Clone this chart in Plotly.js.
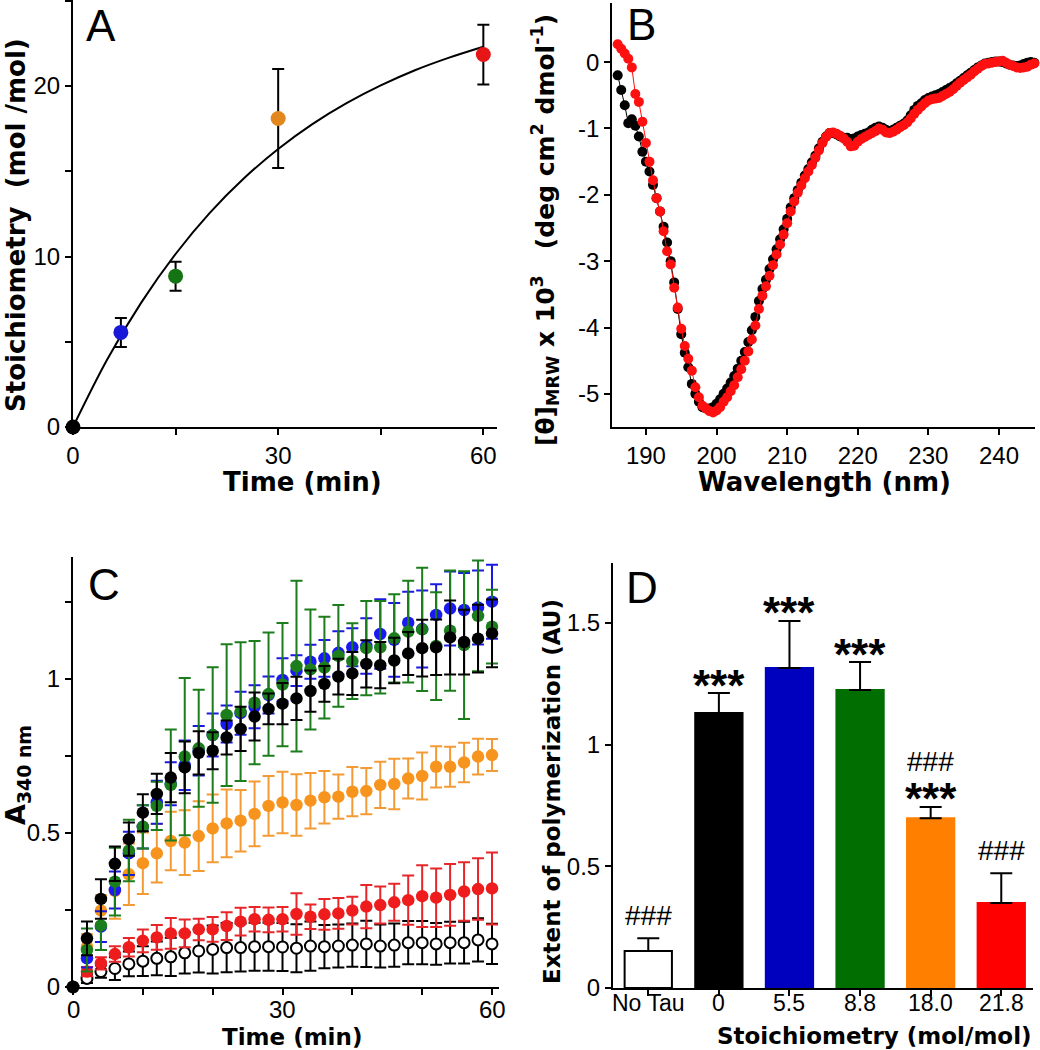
<!DOCTYPE html>
<html><head><meta charset="utf-8">
<script src="https://cdn.plot.ly/plotly-3.0.1.min.js"></script>
<style>html,body{margin:0;padding:0;background:#fff}#chart{width:1040px;height:1050px}</style>
</head><body><div id="chart"></div>
<script>
// ---------- Panel A: stoichiometry vs time ----------
const aTime = [0, 7, 15, 30, 60];
const aStoich = [0, 5.55, 8.85, 18.1, 21.85];
const aErr = [0, 0.85, 0.85, 2.9, 1.75];
const aColors = ['#000000', '#1818d8', '#147414', '#e2861e', '#e61618'];
const aFitTime = [0, 5, 10, 15, 20, 25, 30, 35, 40, 45, 50, 55, 60];
const aFitStoich = [0, 3.96, 7.31, 10.15, 12.56, 14.59, 16.31, 17.77, 19.0, 20.04, 20.93, 21.67, 22.31];

// ---------- Panel B: CD spectra ----------
const bWavelength = [186,186.5,187,187.5,188,188.5,189,189.5,190,190.5,191,191.5,192,192.5,193,193.5,194,194.5,195,195.5,196,196.5,197,197.5,198,198.5,199,199.5,200,200.5,201,201.5,202,202.5,203,203.5,204,204.5,205,205.5,206,206.5,207,207.5,208,208.5,209,209.5,210,210.5,211,211.5,212,212.5,213,213.5,214,214.5,215,215.5,216,216.5,217,217.5,218,218.5,219,219.5,220,220.5,221,221.5,222,222.5,223,223.5,224,224.5,225,225.5,226,226.5,227,227.5,228,228.5,229,229.5,230,230.5,231,231.5,232,232.5,233,233.5,234,234.5,235,235.5,236,236.5,237,237.5,238,238.5,239,239.5,240,240.5,241,241.5,242,242.5,243,243.5,244,244.5,245];
const bBlack = [-0.2,-0.42,-0.65,-0.92,-0.86,-0.96,-1.12,-1.35,-1.5,-1.65,
 -1.85,-2.05,-2.25,-2.48,-2.72,-3.0,-3.32,-3.72,-4.1,-4.38,
 -4.6,-4.85,-5.0,-5.12,-5.2,-5.22,-5.22,-5.2,-5.15,-5.08,
 -5.0,-4.92,-4.83,-4.73,-4.62,-4.5,-4.37,-4.22,-4.04,-3.84,
 -3.6,-3.42,-3.28,-3.12,-2.97,-2.82,-2.67,-2.52,-2.36,-2.19,
 -2.05,-1.93,-1.82,-1.71,-1.61,-1.51,-1.41,-1.3,-1.2,-1.12,
 -1.07,-1.07,-1.09,-1.12,-1.14,-1.14,-1.16,-1.15,-1.12,-1.1,
 -1.08,-1.06,-1.02,-0.99,-0.97,-0.99,-1.02,-1.04,-1.02,-0.99,
 -0.96,-0.93,-0.88,-0.8,-0.72,-0.66,-0.62,-0.57,-0.54,-0.52,
 -0.5,-0.48,-0.45,-0.42,-0.39,-0.36,-0.32,-0.28,-0.24,-0.2,
 -0.16,-0.12,-0.08,-0.05,-0.02,-0.01,0.0,0.01,0.01,0.0,
 -0.02,-0.04,-0.05,-0.06,-0.05,-0.03,-0.01,0.0,-0.01];
const bRed = [0.27,0.2,0.13,0.05,-0.08,-0.48,-0.6,-0.9,-1.22,-1.5,
 -1.78,-2.05,-2.25,-2.55,-2.85,-3.05,-3.4,-3.7,-4.02,-4.28,
 -4.47,-4.65,-4.9,-5.05,-5.18,-5.22,-5.26,-5.28,-5.25,-5.2,
 -5.12,-5.05,-4.96,-4.87,-4.75,-4.63,-4.5,-4.36,-4.18,-3.97,
 -3.72,-3.52,-3.38,-3.22,-3.06,-2.9,-2.75,-2.6,-2.43,-2.25,
 -2.1,-1.97,-1.86,-1.75,-1.65,-1.55,-1.44,-1.33,-1.22,-1.13,
 -1.07,-1.06,-1.08,-1.11,-1.15,-1.2,-1.27,-1.26,-1.2,-1.16,
 -1.13,-1.1,-1.07,-1.04,-1.0,-1.02,-1.06,-1.07,-1.05,-1.02,
 -0.98,-0.95,-0.91,-0.85,-0.78,-0.72,-0.67,-0.62,-0.58,-0.56,
 -0.55,-0.54,-0.51,-0.48,-0.45,-0.41,-0.36,-0.31,-0.27,-0.23,
 -0.19,-0.14,-0.1,-0.06,-0.03,-0.02,-0.01,0.0,0.01,0.02,
 -0.01,-0.04,-0.06,-0.08,-0.09,-0.08,-0.07,-0.04,-0.02];

// ---------- Panel C: A340 polymerization kinetics ----------
const cTime = [0,2,4,6,8,10,12,14,16,18,20,22,24,26,28,30,32,34,36,38,40,42,44,46,48,50,52,54,56,58,60];
const cTimeTicks = [0, 30, 60];
const cNoTau = [0,0.028,0.05,0.06,0.075,0.084,0.093,0.098,0.111,0.117,0.122,0.128,0.128,0.131,0.131,0.13,0.126,0.133,0.131,0.133,0.136,0.14,0.133,0.136,0.144,0.144,0.14,0.144,0.144,0.153,0.14];
const cNoTauErr = [0,0.015,0.02,0.037,0.04,0.048,0.055,0.062,0.067,0.07,0.078,0.08,0.078,0.078,0.078,0.078,0.078,0.08,0.07,0.07,0.07,0.075,0.07,0.07,0.07,0.07,0.068,0.068,0.068,0.07,0.065];
const cRed = [0,0.05,0.077,0.107,0.129,0.15,0.161,0.174,0.174,0.187,0.187,0.198,0.212,0.22,0.218,0.22,0.237,0.228,0.236,0.239,0.248,0.261,0.266,0.275,0.282,0.295,0.29,0.299,0.31,0.318,0.32];
const cRedErr = [0,0.015,0.02,0.025,0.03,0.037,0.04,0.05,0.045,0.035,0.04,0.045,0.045,0.04,0.04,0.04,0.067,0.04,0.05,0.05,0.045,0.07,0.06,0.06,0.08,0.1,0.095,0.1,0.095,0.1,0.117];
const cOrange = [0,0.131,0.248,0.312,0.366,0.402,0.434,0.474,0.469,0.49,0.515,0.531,0.54,0.562,0.588,0.599,0.591,0.605,0.616,0.618,0.634,0.636,0.656,0.659,0.677,0.685,0.715,0.715,0.729,0.748,0.753];
const cOrangeErr = [0,0.04,0.05,0.09,0.1,0.1,0.095,0.095,0.105,0.113,0.11,0.11,0.1,0.105,0.097,0.1,0.1,0.09,0.085,0.072,0.08,0.075,0.075,0.082,0.065,0.076,0.067,0.065,0.064,0.058,0.052];
const cBlue = [0,0.093,0.196,0.315,0.434,0.52,0.6,0.66,0.72,0.767,0.818,0.854,0.889,0.91,0.948,0.997,1.027,1.056,1.067,1.085,1.103,1.107,1.146,1.127,1.183,1.162,1.208,1.229,1.224,1.232,1.251];
const cBlueErr = [0,0.03,0.05,0.06,0.07,0.07,0.07,0.07,0.08,0.08,0.07,0.06,0.07,0.07,0.06,0.07,0.05,0.055,0.06,0.07,0.062,0.09,0.113,0.12,0.1,0.125,0.1,0.12,0.12,0.12,0.12];
const cGreen = [0,0.12,0.2,0.342,0.443,0.52,0.588,0.656,0.748,0.775,0.818,0.883,0.894,0.923,0.951,0.982,1.042,1.031,1.037,1.075,1.058,1.1,1.103,1.132,1.154,1.161,1.107,1.157,1.11,1.205,1.17];
const cGreenErr = [0,0.07,0.08,0.11,0.1,0.07,0.078,0.18,0.255,0.19,0.22,0.23,0.225,0.2,0.2,0.2,0.277,0.195,0.165,0.165,0.123,0.153,0.15,0.143,0.165,0.2,0.175,0.195,0.24,0.18,0.12];
const cBlack = [0,0.158,0.286,0.4,0.48,0.566,0.627,0.68,0.713,0.76,0.767,0.81,0.838,0.878,0.903,0.92,0.937,0.961,0.984,1.008,1.018,1.049,1.045,1.06,1.083,1.1,1.103,1.135,1.12,1.131,1.148];
const cBlackErr = [0,0.055,0.064,0.056,0.054,0.06,0.065,0.08,0.084,0.07,0.06,0.055,0.072,0.078,0.05,0.067,0.07,0.067,0.058,0.058,0.07,0.077,0.075,0.074,0.07,0.092,0.09,0.12,0.105,0.11,0.11];

// ---------- Panel D: extent of polymerization ----------
const dCategories = ['No Tau', '0', '5.5', '8.8', '18.0', '21.8'];
const dValues = [0.152, 1.13, 1.315, 1.224, 0.698, 0.349];
const dErr = [0.053, 0.082, 0.193, 0.115, 0.046, 0.123];
const dColors = ['#ffffff', '#000000', '#0000bf', '#006e00', '#ff8000', '#ff0000'];
const dStars = ['', '***', '***', '***', '***', ''];
const dHashes = ['###', '', '', '', '###', '###'];

const W = 1040, H = 1050;
const px = v => v / W;
const py = v => 1 - v / H;
const tickFont = {family: 'Liberation Sans, Arial, sans-serif', size: 24, color: '#000'};
const titleFamily = 'DejaVu Sans, Verdana, sans-serif';

function ax(o) {
  return Object.assign({
    showline: true, linewidth: 2, linecolor: '#000', ticks: 'outside', ticklen: 6,
    tickwidth: 2, tickcolor: '#000', showgrid: false, zeroline: false,
    tickfont: tickFont, fixedrange: true
  }, o);
}
function minor(d) { return {dtick: d, ticks: 'outside', ticklen: 6, tickwidth: 2, tickcolor: '#000', showgrid: false}; }

const traces = [];
// A
traces.push({x: aFitTime, y: aFitStoich, xaxis: 'x', yaxis: 'y', mode: 'lines',
  line: {color: '#000', width: 2, shape: 'spline'}, hoverinfo: 'skip'});
traces.push({x: aTime, y: aStoich, xaxis: 'x', yaxis: 'y', mode: 'markers', cliponaxis: false,
  marker: {color: aColors, size: 15},
  error_y: {type: 'data', array: aErr, color: '#000', thickness: 2, width: 6}});
// B
traces.push({x: bWavelength, y: bBlack, xaxis: 'x2', yaxis: 'y2', mode: 'lines+markers', cliponaxis: false,
  line: {color: '#000', width: 1}, marker: {color: '#000', size: 10}});
traces.push({x: bWavelength, y: bRed, xaxis: 'x2', yaxis: 'y2', mode: 'lines+markers', cliponaxis: false,
  line: {color: '#ff1010', width: 1}, marker: {color: '#ff1010', size: 10}});
// C
function cTrace(y, err, color, ecolor, open) {
  return {x: cTime, y: y, xaxis: 'x3', yaxis: 'y3', mode: 'markers', cliponaxis: false,
    marker: open ? {color: '#fff', size: 11, line: {color: '#000', width: 2}} : {color: color, size: 12.5},
    error_y: {type: 'data', array: err, color: ecolor, thickness: 2, width: 6}};
}
traces.push(cTrace(cNoTau, cNoTauErr, '#000', '#000', true));
traces.push(cTrace(cRed, cRedErr, '#ee1c1c', '#e8262a', false));
traces.push(cTrace(cOrange, cOrangeErr, '#f7941d', '#f39a35', false));
traces.push(cTrace(cBlue, cBlueErr, '#1a1af0', '#1a1ae0', false));
traces.push(cTrace(cGreen, cGreenErr, '#1b7d1b', '#1b7d1b', false));
traces.push(cTrace(cBlack, cBlackErr, '#000', '#000', false));
// D
traces.push({x: dCategories, y: dValues, xaxis: 'x4', yaxis: 'y4', type: 'bar', width: 0.67,
  marker: {color: dColors, line: {color: ['#000', '#000', '#0000bf', '#006e00', '#ff8000', '#ff0000'], width: 2}},
  error_y: {type: 'data', symmetric: false, array: dErr, arrayminus: dErr.map(() => 0), color: '#000', thickness: 2, width: 11}});

const annotations = [];
function label(t, x, y) {
  annotations.push({text: t, x: px(x), y: py(y), xref: 'paper', yref: 'paper', showarrow: false,
    xanchor: 'center', yanchor: 'middle', font: {family: 'Liberation Sans, Arial, sans-serif', size: 44, color: '#000'}});
}
label('A', 101, 25); label('B', 641, 24); label('C', 104, 584); label('D', 642, 587);
function title(t, x, y, size, angle) {
  annotations.push({text: '<b>' + t + '</b>', x: px(x), y: py(y), xref: 'paper', yref: 'paper', showarrow: false,
    xanchor: 'center', yanchor: 'middle', textangle: angle || 0,
    font: {family: titleFamily, size: size, color: '#000'}});
}
title('Stoichiometry  (mol /mol)', 16, 225, 26, -90);
title('Time (min)', 302, 482, 26);
title('[θ]<sub>MRW</sub> x 10<sup>3</sup>   (deg cm<sup>2</sup> dmol<sup>-1</sup>)', 545, 230, 25, -90);
title('Wavelength (nm)', 824, 482, 26);
title('A<sub>340 nm</sub>', 17, 775, 27, -90);
title('Time (min)', 292, 1037, 23);
title('Extent of polymerization (AU)', 552, 792, 23, -90);
title('Stoichiometry (mol/mol)', 874, 1036, 23);

// C x tick labels, placed close under the ticks
cTimeTicks.forEach(t => annotations.push({text: String(t), x: t, y: py(1009), xref: 'x3', yref: 'paper',
  showarrow: false, xanchor: 'center', yanchor: 'middle', font: tickFont}));

dCategories.forEach((c, i) => {
  const top = dValues[i] + dErr[i];
  // category tick label, placed just under the tick mark
  annotations.push({text: c, x: i, y: py(1003), xref: 'x4', yref: 'paper', showarrow: false,
    xanchor: 'center', yanchor: 'middle',
    font: {family: 'Liberation Sans, Arial, sans-serif', size: 23, color: '#000'}});
  if (dStars[i]) annotations.push({text: '<b>' + dStars[i] + '</b>', x: i, y: top, xref: 'x4', yref: 'y4',
    showarrow: false, xanchor: 'center', yanchor: 'middle', yshift: 8,
    font: {family: 'Liberation Sans, Arial, sans-serif', size: 44, color: '#000'}});
  if (dHashes[i]) annotations.push({text: dHashes[i], x: i, y: top, xref: 'x4', yref: 'y4',
    showarrow: false, xanchor: 'center', yanchor: 'middle', yshift: dStars[i] ? 45 : 23,
    font: {family: 'Liberation Sans, Arial, sans-serif', size: 28, color: '#000'}});
});

const layout = {
  width: W, height: H, margin: {l: 0, r: 0, t: 0, b: 0}, showlegend: false,
  paper_bgcolor: '#fff', plot_bgcolor: 'rgba(0,0,0,0)',
  xaxis: ax({domain: [0.0702, 0.4779], range: [0, 62], anchor: 'y', tick0: 0, dtick: 30, minor: minor(15)}),
  yaxis: ax({domain: [0.5933, 1], range: [0, 25.05], anchor: 'x', tick0: 0, dtick: 10, minor: minor(5)}),
  xaxis2: ax({domain: [0.5885, 0.9952], range: [185.2, 245.1], anchor: 'y2', tick0: 190, dtick: 10}),
  yaxis2: ax({domain: [0.5933, 0.9971], range: [-5.5, 0.89], anchor: 'x2', tickmode: 'array',
    tickvals: [-5, -4, -3, -2, -1, 0], ticktext: ['-5', '-4', '-3', '-2', '-1', '0']}),
  xaxis3: ax({domain: [0.0702, 0.4798], range: [0, 61], anchor: 'y3', tick0: 0, dtick: 30, minor: minor(10),
    showticklabels: false}),
  yaxis3: ax({domain: [0.06, 0.4695], range: [0, 1.396], anchor: 'x3', tick0: 0, dtick: 0.5, minor: minor(0.25)}),
  xaxis4: ax({domain: [0.5894, 0.9933], type: 'category', range: [-0.5, 5.45], anchor: 'y4',
    showticklabels: false}),
  yaxis4: ax({domain: [0.059, 0.4638], range: [0, 1.746], anchor: 'x4', tick0: 0, dtick: 0.5}),
  annotations: annotations
};
Plotly.newPlot('chart', traces, layout, {staticPlot: true, displayModeBar: false});
</script>
</body></html>
